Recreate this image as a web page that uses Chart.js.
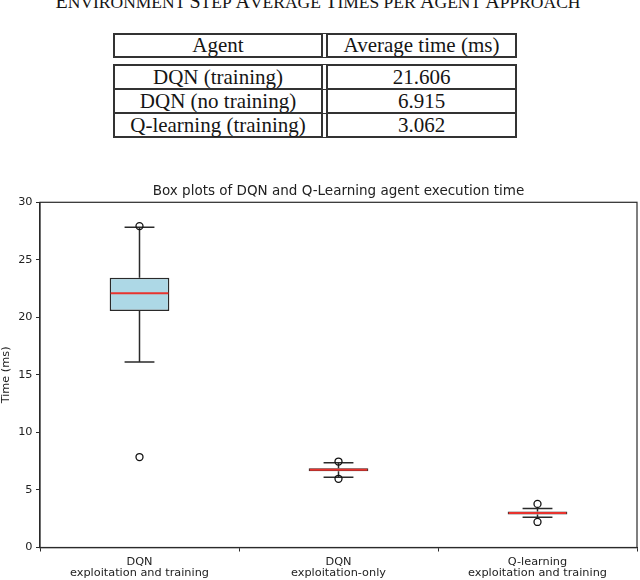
<!DOCTYPE html>
<html>
<head>
<meta charset="utf-8">
<script src="https://cdn.jsdelivr.net/npm/chart.js@4.4.1/dist/chart.umd.min.js"></script>
<style>
  body { margin: 0; width: 640px; height: 580px; overflow: hidden; background: #fff; position: relative;
         font-family: "Liberation Serif", "Times New Roman", serif; color: #151515; }
  #caption { position: absolute; left: 0; width: 636px; top: -7px; text-align: center;
             font-size: 17.5px; line-height: 17px; white-space: nowrap; }
  #caption b { font-weight: normal; font-size: 20px; }
  .tbl { position: absolute; left: 113px; border-collapse: separate; border-spacing: 0; font-size: 21px; }
  .tbl td { padding: 0; text-align: center; white-space: nowrap; border-bottom: 2px solid #333; }
  .tbl td.a { width: 206px; border-left: 2px solid #333; border-right: 7px double #333; }
  .tbl td.b { width: 187px; border-right: 2px solid #333; }
  .tbl tr:first-child td { border-top: 2px solid #333; }
  #head { top: 33px; }
  #head td { height: 21px; line-height: 21px; }
  #body { top: 64px; }
  #body td { height: 22px; line-height: 22px; }
  #wrap { position: absolute; left: 0; top: 170px; width: 640px; height: 410px; }
</style>
</head>
<body>
<div id="caption"><b>E</b>NVIRONMENT <b>S</b>TEP <b>A</b>VERAGE <b>T</b>IMES PER <b>A</b>GENT <b>A</b>PPROACH</div>
<table class="tbl" id="head">
  <tr><td class="a">Agent</td><td class="b">Average time (ms)</td></tr>
</table>
<table class="tbl" id="body"></table>
<div id="wrap"><canvas id="chart"></canvas></div>
<script>
// table values
const agents = ["DQN (training)", "DQN (no training)", "Q-learning (training)"];
const avgTimes = ["21.606", "6.915", "3.062"];

// box plot values (ms)
const categories = [["DQN", "exploitation and training"], ["DQN", "exploitation-only"], ["Q-learning", "exploitation and training"]];
const q1 = [20.55, 6.63, 2.87];
const q3 = [23.45, 6.89, 3.13];
const medians = [22.1, 6.75, 2.99];
const whiskerLow = [16.13, 6.11, 2.63];
const whiskerHigh = [27.83, 7.36, 3.38];
const outliers = [[27.93, 7.86], [7.47, 5.97], [3.79, 2.22]];
const boxColors = ["#add8e6", "#90ee90", "#f08080"];

const body = document.getElementById("body");
agents.forEach((a, i) => {
  const tr = document.createElement("tr");
  tr.innerHTML = '<td class="a">' + a + '</td><td class="b">' + avgTimes[i] + '</td>';
  body.appendChild(tr);
});

// x uses the same label reference so the category scale finds it
const outlierPoints = [];
outliers.forEach((vals, i) => vals.forEach((v) => outlierPoints.push({ x: categories[i], y: v })));

const lineColor = "#2a2a2a";
const textColor = "#222";
const tickFont = { family: "DejaVu Sans", size: 11.3, lineHeight: 1.0 };

const boxParts = {
  id: "boxParts",
  beforeDatasetsDraw(chart) {
    const ctx = chart.ctx;
    const y = chart.scales.y;
    const bars = chart.getDatasetMeta(0).data;
    ctx.save();
    ctx.strokeStyle = lineColor;
    ctx.lineWidth = 1.5;
    bars.forEach((bar, i) => {
      const cap = bar.width / 4;
      ctx.beginPath();
      ctx.moveTo(bar.x, y.getPixelForValue(q3[i]));
      ctx.lineTo(bar.x, y.getPixelForValue(whiskerHigh[i]));
      ctx.moveTo(bar.x, y.getPixelForValue(q1[i]));
      ctx.lineTo(bar.x, y.getPixelForValue(whiskerLow[i]));
      ctx.moveTo(bar.x - cap, y.getPixelForValue(whiskerHigh[i]));
      ctx.lineTo(bar.x + cap, y.getPixelForValue(whiskerHigh[i]));
      ctx.moveTo(bar.x - cap, y.getPixelForValue(whiskerLow[i]));
      ctx.lineTo(bar.x + cap, y.getPixelForValue(whiskerLow[i]));
      ctx.stroke();
    });
    ctx.restore();
  },
  afterDatasetDraw(chart, args) {
    if (args.index !== 0) return;
    const ctx = chart.ctx;
    const y = chart.scales.y;
    ctx.save();
    ctx.strokeStyle = "#e8332e";
    ctx.lineWidth = 2;
    args.meta.data.forEach((bar, i) => {
      const py = y.getPixelForValue(medians[i]);
      ctx.beginPath();
      ctx.moveTo(bar.x - bar.width / 2 + 1, py);
      ctx.lineTo(bar.x + bar.width / 2 - 1, py);
      ctx.stroke();
    });
    ctx.restore();
  },
  afterDraw(chart) {
    const { ctx, chartArea } = chart;
    ctx.save();
    ctx.strokeStyle = lineColor;
    ctx.lineWidth = 1.2;
    ctx.strokeRect(chartArea.left, chartArea.top, chartArea.right - chartArea.left, chartArea.bottom - chartArea.top);
    ctx.restore();
  }
};

new Chart(document.getElementById("chart"), {
  type: "bar",
  data: {
    labels: categories,
    datasets: [
      {
        data: categories.map((c, i) => [q1[i], q3[i]]),
        backgroundColor: boxColors,
        borderColor: lineColor,
        borderWidth: 1.5,
        borderSkipped: false,
        categoryPercentage: 1,
        barPercentage: 0.3,
        order: 2
      },
      {
        type: "line",
        data: outlierPoints,
        showLine: false,
        pointRadius: 3.5,
        pointBackgroundColor: "rgba(255,255,255,0)",
        pointBorderColor: "#111",
        pointBorderWidth: 1.3,
        order: 1
      }
    ]
  },
  options: {
    responsive: true,
    maintainAspectRatio: false,
    animation: false,
    layout: { autoPadding: false, padding: { left: 0, right: 3, top: 0, bottom: 0 } },
    plugins: {
      legend: { display: false },
      tooltip: { enabled: false },
      title: {
        display: true,
        fullSize: false,
        text: "Box plots of DQN and Q-Learning agent execution time",
        color: textColor,
        font: { family: "DejaVu Sans", size: 13.5, weight: "normal", lineHeight: 1.2 },
        padding: { top: 13.6, bottom: 2.5 }
      }
    },
    scales: {
      x: {
        afterFit: (s) => { s.height = 32.5; },
        grid: { display: true, drawOnChartArea: false, tickLength: 4, color: lineColor },
        border: { color: lineColor, width: 1.2 },
        ticks: { color: textColor, font: tickFont, padding: 4.5, maxRotation: 0 }
      },
      y: {
        min: 0,
        max: 30,
        afterFit: (s) => { s.width = 40; },
        grid: { display: true, drawOnChartArea: false, tickLength: 4, color: lineColor },
        border: { color: lineColor, width: 1.2 },
        ticks: { stepSize: 5, color: textColor, font: tickFont, padding: 3.5 },
        title: { display: true, text: "Time (ms)", color: textColor, font: tickFont, padding: 0 }
      }
    }
  },
  plugins: [boxParts]
});
</script>
</body>
</html>
